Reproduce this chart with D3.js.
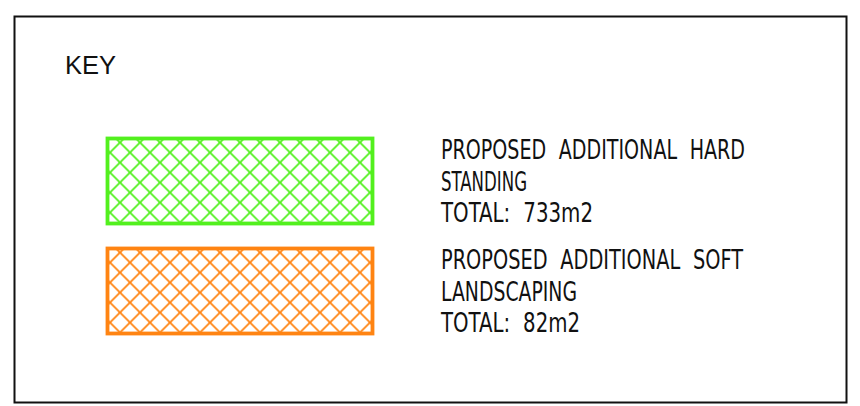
<!DOCTYPE html>
<html>
<head>
<meta charset="utf-8">
<script src="https://cdn.jsdelivr.net/npm/d3@7"></script>
<style>
  body { margin: 0; background: #fff; }
</style>
</head>
<body>
<div id="key_container"></div>
<script>
// key entries
var keyIds = ["hard", "soft"];
var keyColors = ["#52f01e", "#ff8412"];
var keyLines = [
  ["PROPOSED ADDITIONAL HARD", "STANDING", "TOTAL: 733m2"],
  ["PROPOSED ADDITIONAL SOFT", "LANDSCAPING", "TOTAL: 82m2"]
];
// measured line widths (px) off the drawing
var keyLineWidths = [
  [304, 86, 152],
  [302, 136, 139]
];
var keyTitle = "KEY";

var width = 860, height = 406;

var svg = d3.select("#key_container")
  .append("svg")
  .attr("width", width)
  .attr("height", height);

// outer frame
svg.append("rect")
  .attr("x", 14.5)
  .attr("y", 16.5)
  .attr("width", 832)
  .attr("height", 386)
  .attr("fill", "none")
  .attr("stroke", "#111")
  .attr("stroke-width", 2);

svg.append("text")
  .attr("x", 65)
  .attr("y", 74)
  .style("font-family", "'Liberation Sans', Arial, sans-serif")
  .style("font-size", "25.5px")
  .attr("fill", "#111")
  .text(keyTitle);

// rows
var y = d3.scaleBand()
  .domain(keyIds)
  .range([138.5, 333.5])
  .paddingInner(25 / 110);

var defs = svg.append("defs");

// cross hatch patterns
var pat = defs.selectAll("pattern")
  .data(keyIds)
  .enter()
  .append("pattern")
  .attr("id", function (d) { return "hatch-" + d; })
  .attr("patternUnits", "userSpaceOnUse")
  .attr("x", 0)
  .attr("y", function (d) { return y(d) + 4; })
  .attr("width", 20)
  .attr("height", 20);

pat.append("path")
  .attr("d", "M-2,-2L22,22M22,-2L-2,22")
  .attr("stroke", function (d, i) { return keyColors[i]; })
  .attr("stroke-width", 1.8)
  .attr("fill", "none");

var rows = svg.selectAll("g.row")
  .data(keyIds)
  .enter()
  .append("g")
  .attr("class", "row");

rows.append("rect")
  .attr("x", 107.5)
  .attr("y", function (d) { return y(d); })
  .attr("width", 265)
  .attr("height", y.bandwidth())
  .attr("fill", function (d) { return "url(#hatch-" + d + ")"; })
  .attr("stroke", function (d, i) { return keyColors[i]; })
  .attr("stroke-width", 3.8);

// labels
rows.each(function (d, i) {
  var g = d3.select(this);
  g.selectAll("text")
    .data(keyLines[i])
    .enter()
    .append("text")
    .attr("x", 441)
    .attr("y", function (t, j) { return y(d) + 20.5 + j * 31.5; })
    .attr("textLength", function (t, j) { return keyLineWidths[i][j]; })
    .attr("lengthAdjust", "spacingAndGlyphs")
    .style("font-family", "'Liberation Sans Narrow', 'DejaVu Sans Condensed', sans-serif")
    .style("font-size", "26px")
    .style("word-spacing", "8px")
    .attr("fill", "#111")
    .text(function (t) { return t; });
});
</script>
</body>
</html>
